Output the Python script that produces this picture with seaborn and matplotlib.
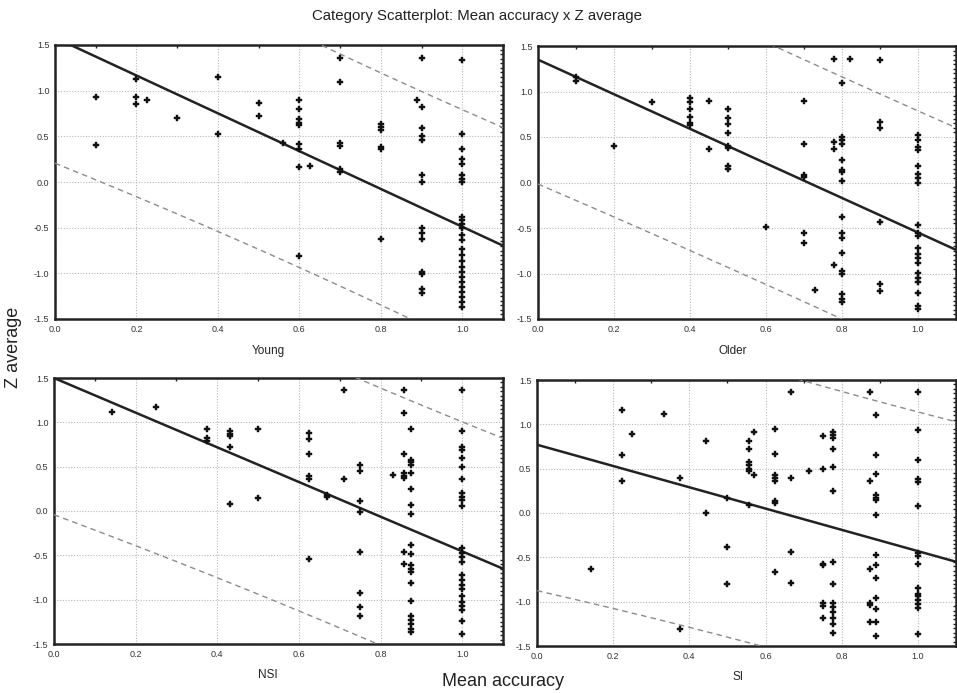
import numpy as np
import pandas as pd
import seaborn as sns
import matplotlib.pyplot as plt
from matplotlib.ticker import MultipleLocator, FormatStrFormatter

# Panel names
groups = ["Young", "Older", "NSI", "SI"]

# Mean accuracy columns and the Z average values stacked at each column
young_acc = [0.1, 0.2, 0.225, 0.3, 0.4, 0.5, 0.56, 0.6, 0.625, 0.7, 0.8, 0.89, 0.9, 1.0]
young_z = [
    [0.93, 0.40],
    [1.13, 0.93, 0.85],
    [0.90],
    [0.70],
    [1.15, 0.53],
    [0.87, 0.72],
    [0.43],
    [0.90, 0.80, 0.69, 0.65, 0.62, 0.42, 0.36, 0.16, -0.81],
    [0.17],
    [1.36, 1.10, 0.43, 0.39, 0.14, 0.11],
    [0.63, 0.60, 0.57, 0.38, 0.36, -0.62],
    [0.90],
    [1.36, 0.82, 0.59, 0.50, 0.46, 0.08, 0.00, -0.50, -0.56, -0.62, -0.98, -1.01, -1.17, -1.21],
    [1.34, 0.53, 0.36, 0.25, 0.20, 0.08, 0.03, 0.00, -0.38, -0.42, -0.46, -0.50, -0.58,
     -0.63, -0.73, -0.80, -0.87, -0.93, -0.99, -1.04, -1.09, -1.15, -1.20, -1.26, -1.31, -1.37],
]

older_acc = [0.1, 0.2, 0.3, 0.4, 0.45, 0.5, 0.6, 0.7, 0.73, 0.78, 0.8, 0.82, 0.9, 1.0]
older_z = [
    [1.16, 1.12],
    [0.40],
    [0.88],
    [0.93, 0.88, 0.81, 0.72, 0.65, 0.63],
    [0.90, 0.365],
    [0.81, 0.71, 0.64, 0.54, 0.40, 0.38, 0.18, 0.15],
    [-0.49],
    [0.90, 0.42, 0.085, 0.055, -0.55, -0.67],
    [-1.18],
    [1.36, 0.45, 0.365, -0.91],
    [1.09, 0.50, 0.47, 0.42, 0.25, 0.14, 0.11, 0.02, -0.38, -0.56, -0.61, -0.78, -0.97,
     -1.01, -1.23, -1.28, -1.31],
    [1.36],
    [1.35, 0.67, 0.60, -0.43, -1.11, -1.19],
    [0.52, 0.47, 0.39, 0.36, 0.18, 0.09, 0.05, -0.01, -0.47, -0.56, -0.59, -0.72, -0.79,
     -0.83, -0.88, -0.99, -1.05, -1.09, -1.21, -1.36, -1.39],
]

nsi_acc = [0.143, 0.25, 0.375, 0.43, 0.5, 0.625, 0.67, 0.71, 0.75, 0.83, 0.857, 0.875, 1.0]
nsi_z = [
    [1.12],
    [1.17],
    [0.93, 0.82, 0.79],
    [0.90, 0.87, 0.85, 0.72, 0.075],
    [0.92, 0.15],
    [0.88, 0.81, 0.64, 0.39, 0.36, -0.54],
    [0.18, 0.16],
    [1.36, 0.36],
    [0.52, 0.45, 0.11, -0.01, -0.46, -0.92, -1.08, -1.18],
    [0.41],
    [1.36, 1.10, 0.64, 0.43, 0.40, 0.37, -0.46, -0.60],
    [0.93, 0.58, 0.55, 0.52, 0.43, 0.25, 0.07, -0.03, -0.38, -0.48, -0.61, -0.65, -0.69,
     -0.81, -1.02, -1.18, -1.23, -1.28, -1.33, -1.37],
    [1.36, 0.90, 0.72, 0.69, 0.60, 0.50, 0.36, 0.20, 0.16, 0.12, 0.06, -0.42, -0.47, -0.52,
     -0.57, -0.72, -0.78, -0.84, -0.88, -0.96, -1.03, -1.07, -1.12, -1.24, -1.39],
]

si_acc = [0.143, 0.222, 0.25, 0.333, 0.375, 0.444, 0.5, 0.556, 0.571, 0.625, 0.667,
          0.714, 0.75, 0.778, 0.875, 0.889, 1.0]
si_z = [
    [-0.63],
    [1.16, 0.65, 0.365],
    [0.89],
    [1.12],
    [0.39, -1.31],
    [0.81, 0.0],
    [0.17, -0.38, -0.80],
    [0.81, 0.72, 0.58, 0.54, 0.50, 0.47, 0.09],
    [0.91, 0.43],
    [0.95, 0.67, 0.43, 0.40, 0.36, 0.14, 0.11, -0.67],
    [1.36, 0.40, -0.44, -0.79],
    [0.47],
    [0.87, 0.50, -0.57, -0.59, -1.01, -1.05, -1.18],
    [0.91, 0.88, 0.85, 0.72, 0.52, 0.25, -0.55, -0.80, -1.02, -1.06, -1.12, -1.18, -1.25, -1.35],
    [1.36, 0.365, -0.63, -1.01, -1.04, -1.23],
    [1.11, 0.65, 0.44, 0.20, 0.17, 0.15, -0.02, -0.47, -0.59, -0.73, -0.96, -1.08, -1.23, -1.39],
    [1.36, 0.94, 0.60, 0.38, 0.35, 0.075, -0.45, -0.49, -0.57, -0.85, -0.91, -0.94, -0.98,
     -1.03, -1.07, -1.37],
]

# Regression line and prediction band
fit_intercept = [1.58, 1.35, 1.50, 0.77]
fit_slope = [-2.07, -1.90, -1.955, -1.20]
band_a = [1.27, 1.33, 1.45, 1.56]
band_b = [0.70, 0.45, 0.70, 0.70]
band_center = [0.75, 0.70, 0.75, 0.75]

# Build one long table
rows = []
for name, accs, zs in zip(groups, [young_acc, older_acc, nsi_acc, si_acc],
                          [young_z, older_z, nsi_z, si_z]):
    for a, col in zip(accs, zs):
        for z in col:
            rows.append((name, a, z))
data = pd.DataFrame(rows, columns=["group", "accuracy", "z"])

sns.set_style("white")
plt.rcParams["font.family"] = ["Liberation Sans", "DejaVu Sans"]

W, H = 957, 693
fig = plt.figure(figsize=(W / 100, H / 100), dpi=100)

# axes boxes in pixels: left, right, top, bottom
boxes = [(55, 503, 45, 319), (538, 956, 46, 319), (54, 503, 378, 644), (537, 956, 380, 646)]
label_x = [0.475, 0.465, 0.477, 0.48]

for i, name in enumerate(groups):
    l, r, t, b = boxes[i]
    ax = fig.add_axes([l / W, (H - b) / H, (r - l) / W, (b - t) / H])
    sub = data[data["group"] == name]

    ax.grid(True, color="#b8b8b8", linestyle=(0, (1, 1.5)), linewidth=0.8)
    ax.set_axisbelow(True)

    xs = np.linspace(0, 1.1, 200)
    fit = fit_intercept[i] + fit_slope[i] * xs
    half = np.sqrt(band_a[i] ** 2 + band_b[i] ** 2 * (xs - band_center[i]) ** 2)
    ax.plot(xs, fit, color="#222222", lw=1.8, zorder=3)
    ax.plot(xs, fit + half, color="#8c8c8c", lw=1.0, dashes=(4, 3), zorder=3)
    ax.plot(xs, fit - half, color="#8c8c8c", lw=1.0, dashes=(4, 3), zorder=3)

    sns.scatterplot(data=sub, x="accuracy", y="z", ax=ax, marker="P", s=20,
                    color="#111111", edgecolor="#111111", linewidth=0.3, zorder=4)

    ax.set_xlim(0, 1.1)
    ax.set_ylim(-1.5, 1.5)
    ax.set_xticks([0.0, 0.2, 0.4, 0.6, 0.8, 1.0])
    ax.set_yticks([-1.5, -1.0, -0.5, 0.0, 0.5, 1.0, 1.5])
    ax.xaxis.set_major_formatter(FormatStrFormatter("%.1f"))
    ax.yaxis.set_major_formatter(FormatStrFormatter("%.1f"))
    ax.xaxis.set_minor_locator(MultipleLocator(0.1))
    ax.yaxis.set_minor_locator(MultipleLocator(0.05))
    ax.tick_params(which="both", direction="in", top=True, right=True,
                   labelsize=6.5, labelcolor="#333333", color="#222222")
    ax.tick_params(which="major", length=0, pad=4)
    ax.tick_params(which="minor", length=2.5, width=1.0)

    for sp in ax.spines.values():
        sp.set_color("#222222")
        sp.set_linewidth(1.8)

    ax.set_xlabel(name, fontsize=8.5, color="#222222")
    ax.xaxis.set_label_coords(label_x[i], -0.095)
    ax.set_ylabel("")

fig.text(477 / W, 1 - 16 / H, "Category Scatterplot: Mean accuracy x Z average",
         ha="center", va="center", fontsize=10.8, color="#222222")
fig.text(503 / W, 1 - 681 / H, "Mean accuracy", ha="center", va="center",
         fontsize=13, color="#222222")
fig.text(14 / W, 1 - 347 / H, "Z average", ha="center", va="center",
         rotation=90, fontsize=13, color="#222222")

fig.savefig("out.png", dpi=100)
